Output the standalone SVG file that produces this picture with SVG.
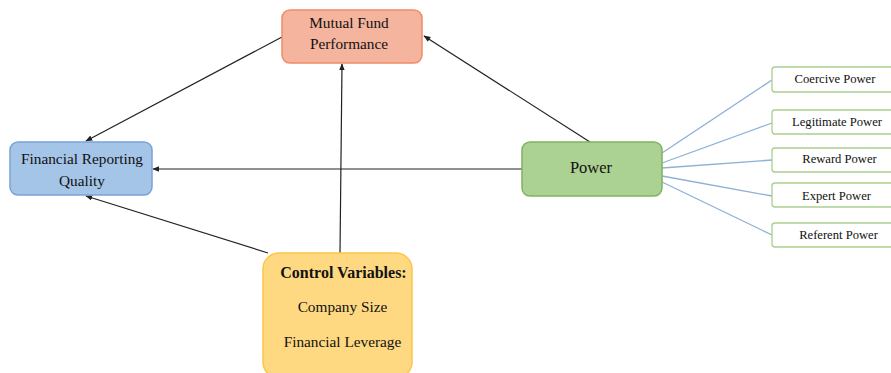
<svg xmlns="http://www.w3.org/2000/svg" width="891" height="373" viewBox="0 0 891 373">
<style>
text{font-family:"Liberation Serif","Times New Roman",serif;fill:#111;text-anchor:middle}
.main{font-size:15.3px}
.small{font-size:12.6px}
.arr{stroke:#222;stroke-width:1.2;fill:none;marker-end:url(#ah)}
.blue{stroke:#8cb0d6;stroke-width:1.3;fill:none}
.sub{fill:#fff;stroke:#a9cf8f;stroke-width:1.3}
</style>
<defs>
<marker id="ah" viewBox="0 0 10 10" refX="9" refY="5" markerWidth="7" markerHeight="7" orient="auto-start-reverse" markerUnits="userSpaceOnUse">
<path d="M0,1 L10,5 L0,9 z" fill="#222"/>
</marker>
</defs>
<rect width="891" height="373" fill="#fff"/>
<g id="connectors">
<line class="arr" x1="282" y1="37" x2="86" y2="141"/>
<line class="arr" x1="590" y1="142" x2="424" y2="36"/>
<line class="arr" x1="522" y1="169" x2="153" y2="169"/>
<line class="arr" x1="268" y1="253" x2="86" y2="196"/>
<line class="arr" x1="340" y1="253" x2="342" y2="64"/>
<line class="blue" x1="662" y1="153" x2="772" y2="80"/>
<line class="blue" x1="662" y1="163" x2="772" y2="123"/>
<line class="blue" x1="662" y1="168" x2="772" y2="160"/>
<line class="blue" x1="662" y1="176" x2="772" y2="196"/>
<line class="blue" x1="662" y1="182" x2="772" y2="235"/>
</g>
<g id="mutual-fund">
<rect x="282" y="10" width="140" height="53" rx="8" fill="#f5b49d" stroke="#ee8c64" stroke-width="1.5"/>
<text class="main" x="349" y="28">Mutual Fund</text>
<text class="main" x="349" y="49">Performance</text>
</g>
<g id="frq">
<rect x="10" y="142" width="142" height="53" rx="8" fill="#a4c4e8" stroke="#78a3d6" stroke-width="1.5"/>
<text class="main" x="82" y="164">Financial Reporting</text>
<text class="main" x="82" y="186">Quality</text>
</g>
<g id="power">
<rect x="522" y="142" width="140" height="54" rx="8" fill="#acd293" stroke="#7fb35e" stroke-width="1.5"/>
<text x="591" y="173" style="font-size:16.5px">Power</text>
</g>
<g id="control">
<rect x="263" y="253" width="149" height="125" rx="16" fill="#ffd982" stroke="#fcc648" stroke-width="1.5"/>
<text class="main" x="343.5" y="278" style="font-weight:bold;font-size:16px">Control Variables:</text>
<text class="main" x="342.5" y="312">Company Size</text>
<text class="main" x="342.5" y="347">Financial Leverage</text>
</g>
<g id="coercive">
<rect class="sub" x="772" y="67" width="125" height="25" rx="3"/>
<text class="small" x="835" y="83">Coercive Power</text>
</g>
<g id="legitimate">
<rect class="sub" x="772" y="110" width="125" height="24" rx="3"/>
<text class="small" x="837" y="126">Legitimate Power</text>
</g>
<g id="reward">
<rect class="sub" x="772" y="148" width="125" height="24" rx="3"/>
<text class="small" x="839.5" y="163">Reward Power</text>
</g>
<g id="expert">
<rect class="sub" x="772" y="183" width="125" height="24" rx="3"/>
<text class="small" x="836.5" y="200">Expert Power</text>
</g>
<g id="referent">
<rect class="sub" x="772" y="223" width="125" height="24" rx="3"/>
<text class="small" x="838.5" y="239">Referent Power</text>
</g>
</svg>
